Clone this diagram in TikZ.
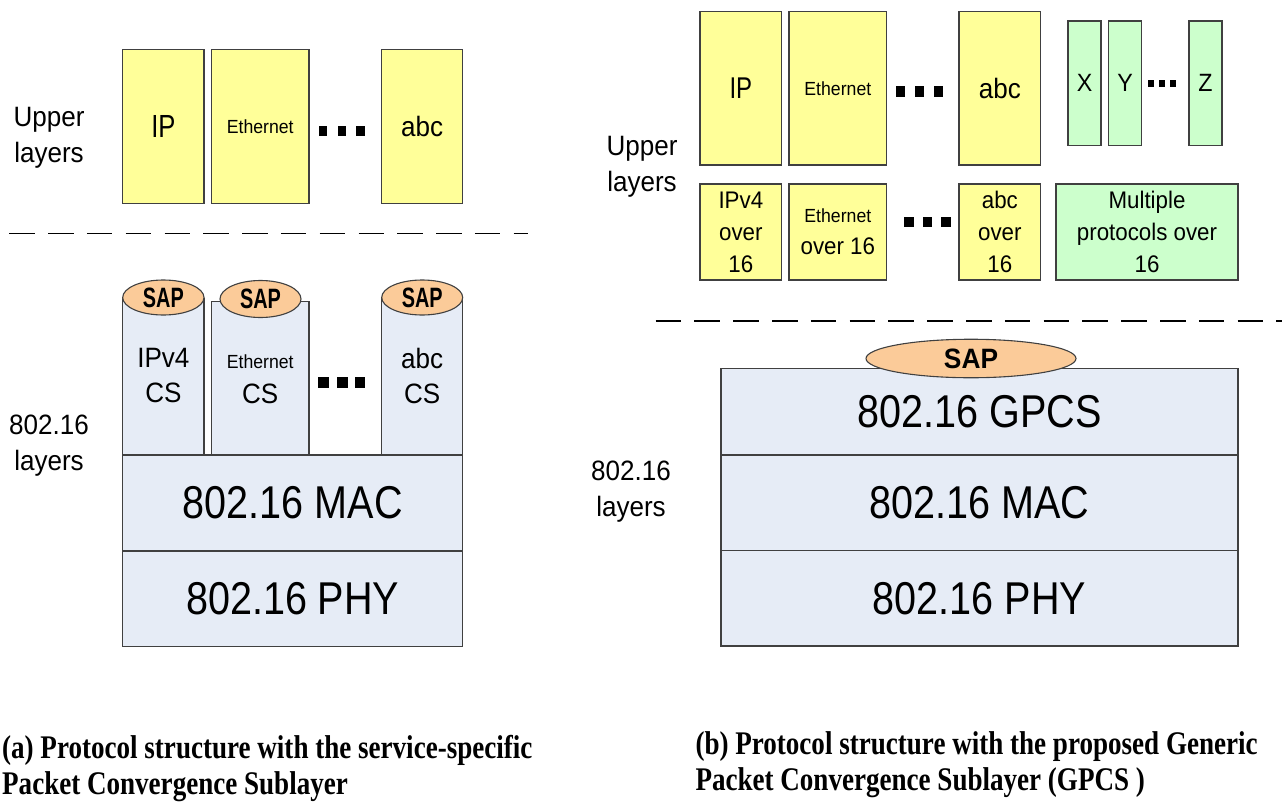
\documentclass[tikz,border=0pt]{standalone}
\usepackage{fontspec}
\setmainfont{Liberation Sans}
\newfontfamily\fsA[FakeStretch=0.93]{Liberation Sans}
\newfontfamily\fsB[FakeStretch=0.86]{Liberation Sans}
\newfontfamily\fsR[FakeStretch=0.80]{Liberation Sans}
\newfontfamily\fsS[FakeStretch=0.71]{Liberation Sans}
\newfontfamily\fsT[FakeStretch=0.94]{Liberation Sans}
\newfontfamily\fcap[FakeStretch=0.82]{Liberation Serif}
\usetikzlibrary{shapes.geometric}
\definecolor{ylw}{HTML}{FFFF99}
\definecolor{grn}{HTML}{CCFFCC}
\definecolor{blu}{HTML}{E6ECF6}
\definecolor{sapc}{HTML}{FBCB99}
\definecolor{edgec}{HTML}{404040}
\begin{document}
\begin{tikzpicture}[x=1pt,y=-1pt,
  box/.style={draw=edgec, line width=1.1pt, inner sep=0pt, rectangle, align=center},
  ybox/.style={box, fill=ylw},
  gbox/.style={box, fill=grn},
  lbox/.style={box, fill=blu},
  sapshape/.style={ellipse, draw=edgec, line width=1.1pt, fill=sapc, inner sep=0pt},
  edgeline/.style={draw=edgec, line width=1.1pt},
  dotsq/.style={fill=black},
  sepline/.style={line width=1.6pt, dash pattern=on 25.5pt off 13.3pt},
  lbl/.style={inner sep=0pt, align=center, font=\fsA\fontsize{28}{36}\selectfont},
  big/.style={font=\fsB\fontsize{46}{50}\selectfont},
  mid/.style={font=\fsA\fontsize{28}{35}\selectfont},
  small/.style={font=\fsA\fontsize{24}{32}\selectfont},
  caption/.style={inner sep=0pt, align=left, anchor=north west, font=\fcap\bfseries\fontsize{33}{36.5}\selectfont}
]
\useasboundingbox (0,0) rectangle (1282,803);

% ---------------- left panel ----------------
\node[lbl] (upA) at (49,138) {Upper\\layers};
\node[ybox, minimum width=81.3, minimum height=154, font=\fsR\fontsize{32}{36}\selectfont] (ipA) at (163.35,126.3) {IP};
\node[ybox, minimum width=97.5, minimum height=154, font=\fsA\fontsize{19}{22}\selectfont] (ethA) at (260.25,126.3) {Ethernet};
\node[ybox, minimum width=81.2, minimum height=154, font=\fsA\fontsize{28}{32}\selectfont] (abcA) at (422.1,126.3) {abc};
\fill[dotsq] (318.5,126) rectangle (327,136);
\fill[dotsq] (337.5,126) rectangle (346,136);
\fill[dotsq] (356,126) rectangle (365,136);

\coordinate (dA1) at (9.3,233.5);
\coordinate (dA2) at (527.5,233.5);
\draw[sepline] (dA1) -- (dA2);

\node[lbl] (l16A) at (49,446) {802.16\\layers};

% IPv4 CS cylinder
\fill[blu] (122.7,297.5) rectangle (204,455);
\draw[edgeline] (122.7,455) -- (122.7,297.5);
\draw[edgeline] (204,297.5) -- (204,455);
\node[sapshape, minimum width=81.3, minimum height=35, font=\fsS\bfseries\fontsize{28}{30}\selectfont] (sapA1) at (163.35,297.5) {SAP};
\node[inner sep=0pt, align=center, mid] (ipv4cs) at (163.35,375.5) {IPv4\\CS};

% Ethernet CS
\node[lbox, minimum width=97.5, minimum height=153.3] (ethcs) at (260.25,378.35) {};
\node[inner sep=0pt, align=center, mid] (ethcst) at (260.25,379) {{\fontsize{19}{22}\selectfont Ethernet}\\CS};
\node[sapshape, minimum width=81, minimum height=37, font=\fsS\bfseries\fontsize{28}{30}\selectfont] (sapA2) at (260.5,299) {SAP};

% abc CS cylinder
\fill[blu] (381.7,297.5) rectangle (462.7,455);
\draw[edgeline] (381.7,455) -- (381.7,297.5);
\draw[edgeline] (462.7,297.5) -- (462.7,455);
\node[sapshape, minimum width=81, minimum height=35, font=\fsS\bfseries\fontsize{28}{30}\selectfont] (sapA3) at (422.2,297.5) {SAP};
\node[inner sep=0pt, align=center, mid] (abccs) at (422.2,375.5) {abc\\CS};

\fill[dotsq] (318,377) rectangle (329,388);
\fill[dotsq] (337,377) rectangle (348,388);
\fill[dotsq] (355,377) rectangle (365,388);

\node[lbox, big, minimum width=340, minimum height=96] (macA) at (292.7,503) {802.16 MAC};
\node[lbox, big, minimum width=340, minimum height=95.7] (phyA) at (292.7,598.85) {802.16 PHY};

\node[caption] (capA) at (2,735) {(a) Protocol structure with the service-specific\\Packet Convergence Sublayer};

% ---------------- right panel ----------------
\node[lbl] (upB) at (642,167) {Upper\\layers};
\node[ybox, minimum width=81.7, minimum height=153.3, font=\fsR\fontsize{30}{34}\selectfont] (ipB) at (740.85,88.35) {IP};
\node[ybox, minimum width=97.7, minimum height=153.3, font=\fsA\fontsize{19}{22}\selectfont] (ethB) at (837.85,88.35) {Ethernet};
\node[ybox, minimum width=81.7, minimum height=153.3, font=\fsA\fontsize{28}{32}\selectfont] (abcB) at (999.85,88.35) {abc};
\fill[dotsq] (895.7,86) rectangle (905,97);
\fill[dotsq] (914.6,86) rectangle (924,97);
\fill[dotsq] (933.5,86) rectangle (943,97);

\node[gbox, minimum width=33, minimum height=124.7, font=\fsA\fontsize{25}{28}\selectfont] (xB) at (1084.5,83.35) {X};
\node[gbox, minimum width=33, minimum height=124.7, font=\fsA\fontsize{25}{28}\selectfont] (yB) at (1125,83.35) {Y};
\node[gbox, minimum width=33, minimum height=124.7, font=\fsA\fontsize{25}{28}\selectfont] (zB) at (1205.5,83.35) {Z};
\fill[dotsq] (1148,80) rectangle (1154.4,87);
\fill[dotsq] (1159,80) rectangle (1165,87);
\fill[dotsq] (1169.5,80) rectangle (1176,87);

\node[ybox, small, minimum width=81.7, minimum height=96] (ipv4o) at (740.85,232) {IPv4\\over\\16};
\node[ybox, small, minimum width=97.7, minimum height=96] (etho) at (837.85,232) {{\fontsize{19}{22}\selectfont Ethernet}\\over 16};
\node[ybox, small, minimum width=81.7, minimum height=96] (abco) at (999.85,232) {abc\\over\\16};
\node[gbox, small, minimum width=182, minimum height=96] (multi) at (1147,232) {Multiple\\protocols over\\16};
\fill[dotsq] (903.7,216.7) rectangle (913.5,226.7);
\fill[dotsq] (923,216.7) rectangle (932.4,226.7);
\fill[dotsq] (941.4,216.7) rectangle (950.5,226.7);

\coordinate (dB1) at (655.6,320.7);
\coordinate (dB2) at (1282,320.7);
\draw[sepline] (dB1) -- (dB2);

\node[lbl] (l16B) at (631,492) {802.16\\layers};

\node[lbox, big, minimum width=517, minimum height=86.7] (gpcs) at (979.5,411.65) {802.16 GPCS};
\node[lbox, big, minimum width=517, minimum height=95.7] (macB) at (979.5,502.85) {802.16 MAC};
\node[lbox, big, minimum width=517, minimum height=95.3] (phyB) at (979.5,598.35) {802.16 PHY};
\node[sapshape, minimum width=210, minimum height=38.5, font=\fsT\bfseries\fontsize{28}{30}\selectfont] (sapB) at (971,358.5) {SAP};

\node[caption] (capB) at (695.3,731) {(b) Protocol structure with the proposed Generic\\Packet Convergence Sublayer (GPCS )};
\end{tikzpicture}
\end{document}
